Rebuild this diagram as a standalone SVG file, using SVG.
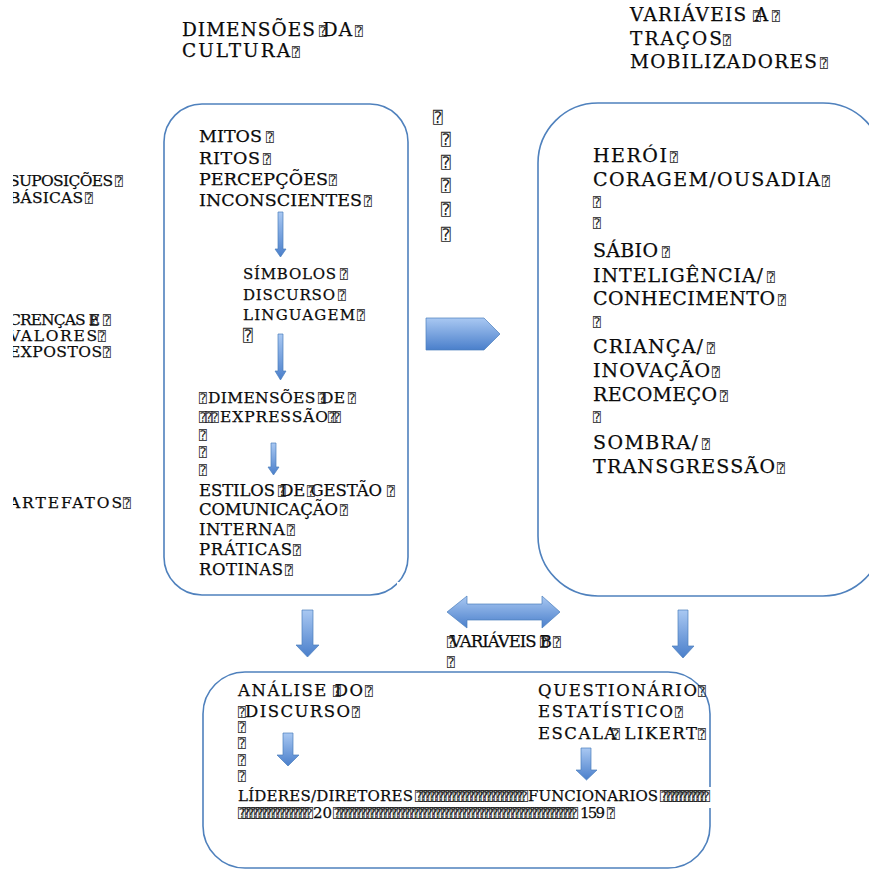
<svg xmlns="http://www.w3.org/2000/svg" width="869" height="872" viewBox="0 0 869 872">
  <defs>
    <linearGradient id="blueFill" x1="0" y1="0" x2="0" y2="1">
      <stop offset="0" stop-color="#a9c8f2"/>
      <stop offset="1" stop-color="#4a7fcb"/>
    </linearGradient>
    <clipPath id="labelClip">
      <rect x="13" y="0" width="150" height="872"/>
    </clipPath>
  </defs>
  <style>
    .box { fill: none; stroke: #4f81bd; stroke-width: 1.6; }
    .arrow { fill: url(#blueFill); stroke: #4a7ebb; stroke-width: 0.7; }
    .mask { fill: #ffffff; }
    text { font-family: "DejaVu Serif", "Liberation Serif", serif; fill: #0a0a0a; stroke: #0a0a0a; stroke-width: 0.25; }
    .t19 { font-size: 18.5px; }
    .t20 { font-size: 19px; }
    .t18 { font-size: 17.5px; }
    .t17 { font-size: 16.5px; }
    .t16 { font-size: 15.5px; }
    .t15 { font-size: 15px; }
    .lab { font-size: 15.5px; }
    .q { font-family: "DejaVu Sans Mono", "DejaVu Sans", monospace; font-size: 13px; fill: #222; stroke: none; }
    .qb { font-family: "DejaVu Sans Mono", "DejaVu Sans", monospace; font-size: 16px; fill: #222; stroke: none; }
  </style>

  <rect x="0" y="0" width="869" height="872" fill="#ffffff"/>

  <!-- column titles -->
  <g id="title-culture">
    <text class="t19" x="182" y="36" textLength="170" lengthAdjust="spacing">DIMENSÕES DA</text>
    <text class="t19" x="182" y="57" textLength="108" lengthAdjust="spacing">CULTURA</text>
    <text class="q"><tspan x="319" y="36">⍰</tspan><tspan x="355" y="36">⍰</tspan><tspan x="292" y="57">⍰</tspan></text>
  </g>
  <g id="title-variables-a">
    <text class="t19" x="630" y="21" textLength="138" lengthAdjust="spacing">VARIÁVEIS A</text>
    <text class="t19" x="630" y="45" textLength="92" lengthAdjust="spacing">TRAÇOS</text>
    <text class="t19" x="630" y="68" textLength="187" lengthAdjust="spacing">MOBILIZADORES</text>
    <text class="q"><tspan x="753" y="21">⍰</tspan><tspan x="772" y="21">⍰</tspan><tspan x="723" y="45">⍰</tspan><tspan x="820" y="68">⍰</tspan></text>
  </g>

  <!-- level labels on the left margin -->
  <g id="level-labels" clip-path="url(#labelClip)">
    <text class="lab" x="9" y="186" textLength="104" lengthAdjust="spacing">SUPOSIÇÕES</text>
    <text class="lab" x="9" y="203" textLength="74" lengthAdjust="spacing">BÁSICAS</text>
    <text class="lab" x="9" y="325" textLength="91" lengthAdjust="spacing">CRENÇAS E</text>
    <text class="lab" x="9" y="341" textLength="88" lengthAdjust="spacing">VALORES</text>
    <text class="lab" x="9" y="357" textLength="93" lengthAdjust="spacing">EXPOSTOS</text>
    <text class="lab" x="9" y="508" textLength="113" lengthAdjust="spacing">ARTEFATOS</text>
    <text class="q"><tspan x="115" y="186">⍰</tspan><tspan x="85" y="203">⍰</tspan><tspan x="90" y="325">⍰</tspan><tspan x="103" y="325">⍰</tspan><tspan x="98" y="341">⍰</tspan><tspan x="103" y="357">⍰</tspan><tspan x="123" y="508">⍰</tspan></text>
  </g>

  <!-- culture dimensions box -->
  <g id="node-culture">
    <rect class="box" x="164" y="104" width="244" height="491" rx="38" ry="38"/>
    <rect class="mask" x="397" y="582" width="16" height="16"/>
    <text class="t18" x="199" y="142" textLength="63" lengthAdjust="spacing">MITOS</text>
    <text class="t18" x="199" y="164" textLength="61" lengthAdjust="spacing">RITOS</text>
    <text class="t18" x="199" y="185" textLength="129" lengthAdjust="spacing">PERCEPÇÕES</text>
    <text class="t18" x="199" y="206" textLength="163" lengthAdjust="spacing">INCONSCIENTES</text>
    <text class="t15" x="243" y="279" textLength="93" lengthAdjust="spacing">SÍMBOLOS</text>
    <text class="t15" x="243" y="300" textLength="92" lengthAdjust="spacing">DISCURSO</text>
    <text class="t15" x="243" y="320" textLength="112" lengthAdjust="spacing">LINGUAGEM</text>
    <text class="t16" x="208" y="403" textLength="137" lengthAdjust="spacing">DIMENSÕES DE</text>
    <text class="t16" x="220" y="422" textLength="108" lengthAdjust="spacing">EXPRESSÃO</text>
    <text class="t17" x="199" y="496" textLength="183" lengthAdjust="spacing">ESTILOS DE GESTÃO</text>
    <text class="t17" x="199" y="515" textLength="139" lengthAdjust="spacing">COMUNICAÇÃO</text>
    <text class="t17" x="199" y="535" textLength="86" lengthAdjust="spacing">INTERNA</text>
    <text class="t17" x="199" y="555" textLength="93" lengthAdjust="spacing">PRÁTICAS</text>
    <text class="t17" x="199" y="575" textLength="84" lengthAdjust="spacing">ROTINAS</text>
    <text class="q">
      <tspan x="266" y="142">⍰</tspan><tspan x="263" y="164">⍰</tspan><tspan x="329" y="185">⍰</tspan><tspan x="364" y="206">⍰</tspan>
      <tspan x="340" y="279">⍰</tspan><tspan x="338" y="300">⍰</tspan><tspan x="357" y="320">⍰</tspan>
      <tspan x="199" y="403">⍰</tspan><tspan x="318" y="403">⍰</tspan><tspan x="348" y="403">⍰</tspan>
      <tspan x="199" y="422">⍰</tspan><tspan x="205" y="422">⍰</tspan><tspan x="211" y="422">⍰</tspan><tspan x="328" y="422">⍰</tspan><tspan x="333" y="422">⍰</tspan>
      <tspan x="199" y="440">⍰</tspan><tspan x="199" y="457">⍰</tspan><tspan x="199" y="475">⍰</tspan>
      <tspan x="278" y="496">⍰</tspan><tspan x="307" y="496">⍰</tspan><tspan x="387" y="496">⍰</tspan>
      <tspan x="340" y="515">⍰</tspan><tspan x="287" y="535">⍰</tspan><tspan x="293" y="555">⍰</tspan><tspan x="285" y="575">⍰</tspan>
    </text>
    <text class="qb" x="243" y="341">⍰</text>
  </g>

  <!-- spacer marks between the boxes -->
  <g id="spacer-marks">
    <text class="qb"><tspan x="433" y="123">⍰</tspan><tspan x="441" y="145">⍰</tspan><tspan x="441" y="168">⍰</tspan><tspan x="441" y="191">⍰</tspan><tspan x="441" y="215">⍰</tspan><tspan x="441" y="240">⍰</tspan></text>
  </g>

  <!-- mobilising traits box -->
  <g id="node-traits">
    <rect class="box" x="538" y="103" width="345" height="493" rx="60" ry="60"/>
    <text class="t20" x="593" y="162" textLength="74" lengthAdjust="spacing">HERÓI</text>
    <text class="t20" x="593" y="186" textLength="227" lengthAdjust="spacing">CORAGEM/OUSADIA</text>
    <text class="t20" x="593" y="257" textLength="65" lengthAdjust="spacing">SÁBIO</text>
    <text class="t20" x="593" y="282" textLength="170" lengthAdjust="spacing">INTELIGÊNCIA/</text>
    <text class="t20" x="593" y="305" textLength="182" lengthAdjust="spacing">CONHECIMENTO</text>
    <text class="t20" x="593" y="353" textLength="110" lengthAdjust="spacing">CRIANÇA/</text>
    <text class="t20" x="593" y="377" textLength="117" lengthAdjust="spacing">INOVAÇÃO</text>
    <text class="t20" x="593" y="401" textLength="124" lengthAdjust="spacing">RECOMEÇO</text>
    <text class="t20" x="593" y="449" textLength="105" lengthAdjust="spacing">SOMBRA/</text>
    <text class="t20" x="593" y="473" textLength="182" lengthAdjust="spacing">TRANSGRESSÃO</text>
    <text class="q">
      <tspan x="670" y="162">⍰</tspan><tspan x="822" y="186">⍰</tspan><tspan x="593" y="207">⍰</tspan><tspan x="593" y="228">⍰</tspan>
      <tspan x="662" y="257">⍰</tspan><tspan x="767" y="282">⍰</tspan><tspan x="778" y="305">⍰</tspan><tspan x="593" y="327">⍰</tspan>
      <tspan x="707" y="353">⍰</tspan><tspan x="712" y="377">⍰</tspan><tspan x="720" y="401">⍰</tspan><tspan x="593" y="422">⍰</tspan>
      <tspan x="702" y="449">⍰</tspan><tspan x="777" y="473">⍰</tspan>
    </text>
  </g>

  <!-- label under the two-way arrow -->
  <g id="label-variables-b">
    <text class="t17" x="450" y="647" textLength="102" lengthAdjust="spacing">VARIÁVEIS B</text>
    <text class="q"><tspan x="447" y="647">⍰</tspan><tspan x="540" y="647">⍰</tspan><tspan x="553" y="647">⍰</tspan><tspan x="447" y="667">⍰</tspan></text>
  </g>

  <!-- methods box -->
  <g id="node-methods">
    <rect class="box" x="203" y="672" width="507" height="196" rx="42" ry="42"/>
    <rect class="mask" x="706" y="787" width="12" height="21"/>
    <rect class="mask" x="705" y="848" width="14" height="24"/>
    <text class="t17" x="238" y="696" textLength="125" lengthAdjust="spacing">ANÁLISE DO</text>
    <text class="t17" x="245" y="717" textLength="105" lengthAdjust="spacing">DISCURSO</text>
    <text class="t17" x="538" y="696" textLength="159" lengthAdjust="spacing">QUESTIONÁRIO</text>
    <text class="t17" x="538" y="717" textLength="135" lengthAdjust="spacing">ESTATÍSTICO</text>
    <text class="t17" x="538" y="739" textLength="159" lengthAdjust="spacing">ESCALA LIKERT</text>
    <text class="t15" x="238" y="801" textLength="175" lengthAdjust="spacing">LÍDERES/DIRETORES</text>
    <text class="t15" x="528" y="801" textLength="130" lengthAdjust="spacing">FUNCIONARIOS</text>
    <text class="t15" x="313" y="818">20</text>
    <text class="t15" x="580" y="818" textLength="25" lengthAdjust="spacing">159</text>
    <text class="q">
      <tspan x="333" y="696">⍰</tspan><tspan x="365" y="696">⍰</tspan><tspan x="238" y="717">⍰</tspan><tspan x="352" y="717">⍰</tspan>
      <tspan x="238" y="732">⍰</tspan><tspan x="238" y="748">⍰</tspan><tspan x="238" y="765">⍰</tspan><tspan x="238" y="781">⍰</tspan>
      <tspan x="698" y="696">⍰</tspan><tspan x="675" y="717">⍰</tspan><tspan x="612" y="739">⍰</tspan><tspan x="698" y="739">⍰</tspan>
      <tspan x="607" y="818">⍰</tspan>
    </text>
    <text class="q" x="415" y="801" textLength="113" lengthAdjust="spacing">⍰⍰⍰⍰⍰⍰⍰⍰⍰⍰⍰⍰⍰⍰⍰⍰⍰⍰⍰⍰⍰⍰⍰⍰⍰</text>
    <text class="q" x="660" y="801" textLength="50" lengthAdjust="spacing">⍰⍰⍰⍰⍰⍰⍰⍰⍰⍰⍰</text>
    <text class="q" x="238" y="818" textLength="75" lengthAdjust="spacing">⍰⍰⍰⍰⍰⍰⍰⍰⍰⍰⍰⍰⍰⍰⍰⍰</text>
    <text class="q" x="333" y="818" textLength="245" lengthAdjust="spacing">⍰⍰⍰⍰⍰⍰⍰⍰⍰⍰⍰⍰⍰⍰⍰⍰⍰⍰⍰⍰⍰⍰⍰⍰⍰⍰⍰⍰⍰⍰⍰⍰⍰⍰⍰⍰⍰⍰⍰⍰⍰⍰⍰⍰⍰⍰⍰⍰⍰⍰⍰⍰⍰⍰⍰</text>
  </g>

  <!-- block arrows -->
  <g id="connectors">
    <!-- inside the culture box -->
    <path class="arrow" d="M278,212 H283 V249 H286 L280.5,257 L275,249 H278 Z"/>
    <path class="arrow" d="M278,334 H283 V371 H286 L280.5,380 L275,371 H278 Z"/>
    <path class="arrow" d="M271,443 H276 V467 H279 L273.5,475 L268,467 H271 Z"/>
    <!-- culture to traits -->
    <path class="arrow" d="M426,318 H484 L500,334 L484,350 H426 Z"/>
    <!-- two-way link -->
    <path class="arrow" d="M447,612 L467,596 V604 H542 V596 L560,612 L542,628 V620 H467 V628 Z"/>
    <!-- boxes down to methods -->
    <path class="arrow" d="M302,610 H313 V645 H319 L307.5,657 L296,645 H302 Z"/>
    <path class="arrow" d="M678,610 H688 V646 H694 L683,658 L672,646 H678 Z"/>
    <!-- inside the methods box -->
    <path class="arrow" d="M283,733 H293 V755 H299 L288,766 L277,755 H283 Z"/>
    <path class="arrow" d="M581,748 H591 V770 H597 L586.5,780 L576,770 H581 Z"/>
  </g>
</svg>
